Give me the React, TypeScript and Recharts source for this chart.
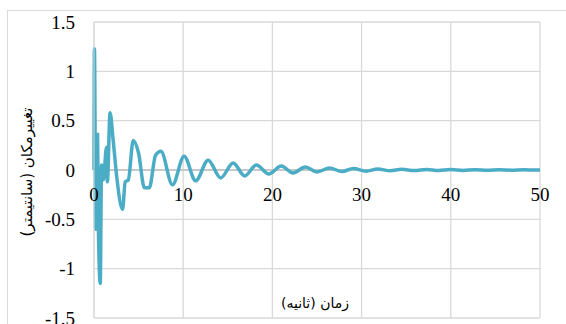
import { LineChart, Line, XAxis, YAxis, CartesianGrid, ReferenceLine } from "recharts";

// time (s)
const TIME = [
  0, 0.05, 0.2, 0.4, 0.5, 0.7, 0.85, 1.05, 1.4, 1.5, 1.8, 2.15, 2.55, 3.2, 3.5, 3.85,
  4.4, 5.0, 5.65, 6.2, 6.9, 7.5, 8.8, 10.1, 11.4, 12.8, 14.2, 15.6, 16.9, 18.2, 19.6,
  21.0, 22.3, 23.7, 25.0, 26.4, 27.8, 29.1, 30.5, 31.8, 33.2, 34.5, 35.9, 37.3, 38.6,
  40.0, 41.4, 42.7, 44.1, 45.4, 46.8, 48.2, 49.5, 50,
];

// displacement (cm)
const DISP = [
  0, 1.23, -0.6, 0.36, -0.62, -1.15, 0.05, -0.1, 0.23, -0.12, 0.58, 0.3, -0.07, -0.4, -0.12, -0.1,
  0.3, 0.17, -0.18, -0.18, 0.15, 0.19, -0.15, 0.14, -0.11, 0.1, -0.08, 0.07, -0.06, 0.05, -0.04,
  0.04, -0.03, 0.03, -0.02, 0.02, -0.015, 0.015, -0.012, 0.01, -0.008, 0.008, -0.006, 0.006, -0.005,
  0.004, -0.004, 0.003, -0.003, 0.002, -0.002, 0.002, -0.001, 0,
];

const X_TICKS = [0, 10, 20, 30, 40, 50];
const Y_TICKS = [-1.5, -1, -0.5, 0, 0.5, 1, 1.5];

const X_TITLE = "زمان (ثانیه)";
const Y_TITLE = "تغییرمکان (سانتیمتر)";

const data = TIME.map((t, i) => ({ t, d: DISP[i] }));

const serif = { fontFamily: "'Liberation Serif', 'Times New Roman', serif", fontSize: 19 };

// x labels sit next to the zero line, not at the bottom
const renderXTick = (props: any) => {
  const { x, y, payload } = props;
  return (
    <text key={payload.value} x={x} y={y - 117} textAnchor="middle" fill="#000" style={serif}>
      {payload.value}
    </text>
  );
};

const renderYTick = (props: any) => {
  const { x, y, payload } = props;
  return (
    <text key={payload.value} x={x} y={y} dy="0.35em" textAnchor="end" fill="#000" style={serif}>
      {payload.value}
    </text>
  );
};

export default function App() {
  return (
    <div style={{ position: "absolute", left: 0, top: 0, width: 566, height: 324, overflow: "hidden", background: "#fff" }}>
      <div style={{ position: "absolute", left: 7, top: 10, width: 700, height: 500, border: "1px solid #d9d9d9" }} />
      <div style={{ position: "absolute", left: 0, top: 0 }}>
        <LineChart width={566} height={324} data={data} margin={{ top: 22, right: 26, bottom: 5, left: 14 }}>
          <CartesianGrid stroke="#d9d9d9" strokeWidth={1.3} />
          <XAxis
            dataKey="t"
            type="number"
            domain={[0, 50]}
            ticks={X_TICKS}
            axisLine={false}
            tickLine={false}
            tickSize={0}
            tickMargin={0}
            tick={renderXTick}
            height={1}
            interval={0}
          />
          <YAxis
            type="number"
            domain={[-1.5, 1.5]}
            ticks={Y_TICKS}
            width={80}
            axisLine={{ stroke: "#d9d9d9" }}
            tickLine={false}
            tickSize={0}
            tickMargin={19}
            tick={renderYTick}
            interval={0}
          />
          <ReferenceLine y={0} stroke="#bfbfbf" strokeWidth={1.3} />
          <Line
            type="monotone"
            dataKey="d"
            stroke="#4bacc6"
            strokeWidth={3.5}
            dot={false}
            isAnimationActive={false}
          />
        </LineChart>
      </div>
      <div
        style={{
          position: "absolute",
          left: 315,
          top: 303,
          transform: "translate(-50%, -50%)",
          fontFamily: "'DejaVu Sans', sans-serif",
          fontSize: 14,
          whiteSpace: "nowrap",
          direction: "rtl",
          color: "#000",
        }}
      >
        {X_TITLE}
      </div>
      <div
        style={{
          position: "absolute",
          left: 27,
          top: 172,
          transform: "translate(-50%, -50%) rotate(-90deg)",
          fontFamily: "'DejaVu Sans', sans-serif",
          fontSize: 15,
          whiteSpace: "nowrap",
          direction: "rtl",
          color: "#000",
        }}
      >
        {Y_TITLE}
      </div>
    </div>
  );
}
